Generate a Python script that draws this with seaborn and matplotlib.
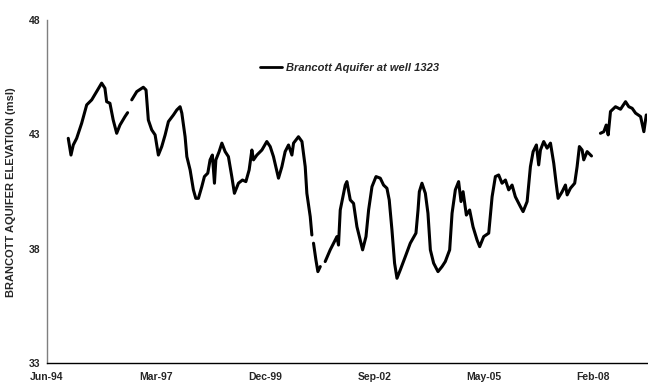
import matplotlib
matplotlib.use("Agg")
import matplotlib.pyplot as plt
import matplotlib.dates as mdates
from matplotlib.lines import Line2D
import numpy as np
import pandas as pd
import seaborn as sns

# Groundwater elevation record, split into continuous logging periods
seg1_dates = ["1994-12-27", "1995-01-21", "1995-02-11", "1995-03-14", "1995-04-29",
              "1995-06-14", "1995-07-30", "1995-09-13", "1995-10-29", "1995-11-28",
              "1995-12-14", "1996-01-13", "1996-02-12", "1996-03-15", "1996-04-14",
              "1996-05-30", "1996-06-23"]
seg1_vals = [42.83, 42.10, 42.54, 42.83, 43.49,
             44.29, 44.51, 44.87, 45.24, 45.02,
             44.43, 44.36, 43.63, 43.05, 43.41,
             43.78, 43.95]

seg2_dates = ["1996-07-31", "1996-09-15", "1996-11-14", "1996-12-09", "1996-12-30",
              "1997-01-30", "1997-03-02", "1997-04-01", "1997-05-02", "1997-06-02",
              "1997-07-02", "1997-08-17", "1997-09-17", "1997-10-17", "1997-11-02",
              "1997-12-02", "1997-12-18", "1998-01-17", "1998-02-16", "1998-03-10",
              "1998-04-03", "1998-05-04", "1998-05-28", "1998-06-28", "1998-07-19",
              "1998-08-09", "1998-08-28", "1998-09-10", "1998-10-10", "1998-11-04",
              "1998-12-04", "1999-01-03", "1999-02-03", "1999-02-27", "1999-04-05",
              "1999-05-12", "1999-06-12", "1999-07-12", "1999-08-06", "1999-08-21",
              "1999-09-21", "1999-11-06", "1999-12-21", "2000-01-21", "2000-02-20",
              "2000-04-06", "2000-05-07", "2000-06-06", "2000-07-07", "2000-08-07",
              "2000-08-22", "2000-10-06", "2000-11-07", "2000-12-07", "2000-12-22",
              "2001-01-22", "2001-02-06"]
seg2_vals = [44.51, 44.87, 45.06, 44.94, 43.63,
             43.20, 42.98, 42.10, 42.47, 42.98,
             43.56, 43.85, 44.07, 44.21, 43.93,
             42.90, 42.03, 41.45, 40.58, 40.21,
             40.21, 40.72, 41.16, 41.31, 41.89,
             42.10, 40.87, 41.89, 42.25, 42.62,
             42.25, 42.03, 41.16, 40.43, 40.87,
             41.01, 40.94, 41.45, 42.32, 41.89,
             42.10, 42.32, 42.69, 42.47, 42.03,
             41.09, 41.59, 42.25, 42.54, 42.10,
             42.62, 42.90, 42.69, 41.59, 40.43,
             39.41, 38.61]

seg3_dates = ["2001-02-21", "2001-03-15", "2001-04-02", "2001-04-24"]
seg3_vals = [38.25, 37.52, 37.01, 37.23]

seg4_dates = ["2001-06-08", "2001-07-24", "2001-09-08", "2001-09-24", "2001-10-08",
              "2001-10-24", "2001-12-09", "2001-12-24", "2002-01-24", "2002-02-23",
              "2002-03-26", "2002-04-25", "2002-05-17", "2002-06-17", "2002-07-11",
              "2002-08-11", "2002-09-17", "2002-10-26", "2002-11-25", "2002-12-26",
              "2003-01-16", "2003-02-10", "2003-03-06", "2003-03-28", "2003-04-27",
              "2003-06-12", "2003-07-28", "2003-09-18", "2003-10-07", "2003-10-19",
              "2003-11-12", "2003-12-13", "2004-01-06", "2004-01-28", "2004-02-27",
              "2004-04-07", "2004-05-14", "2004-06-13", "2004-07-23", "2004-08-14",
              "2004-09-13", "2004-10-13", "2004-11-04", "2004-11-23", "2004-12-23",
              "2005-01-22", "2005-02-22", "2005-03-31", "2005-04-24", "2005-05-31",
              "2005-07-16", "2005-08-16", "2005-09-15", "2005-10-15", "2005-11-15",
              "2005-12-16", "2006-01-15", "2006-02-15", "2006-03-17", "2006-05-02",
              "2006-05-27", "2006-07-03", "2006-08-02", "2006-08-27", "2006-09-26",
              "2006-10-17", "2006-11-02", "2006-12-02", "2007-01-02", "2007-02-02",
              "2007-03-04", "2007-03-26", "2007-04-13", "2007-05-20", "2007-06-19",
              "2007-07-05", "2007-08-04", "2007-09-12", "2007-10-04", "2007-10-25",
              "2007-11-19", "2007-12-04", "2008-01-04", "2008-02-13"]
seg4_vals = [37.45, 37.96, 38.39, 38.54, 38.17,
             39.70, 40.79, 40.94, 40.14, 39.99,
             38.97, 38.39, 37.96, 38.54, 39.70,
             40.72, 41.16, 41.09, 40.79, 40.65,
             40.14, 38.83, 37.38, 36.72, 37.08,
             37.66, 38.25, 38.69, 39.70, 40.50,
             40.87, 40.43, 39.56, 37.96, 37.38,
             37.01, 37.23, 37.45, 37.96, 39.56,
             40.58, 40.94, 40.07, 40.50, 39.48,
             39.70, 38.97, 38.39, 38.10, 38.54,
             38.69, 40.28, 41.16, 41.23, 40.87,
             41.01, 40.58, 40.79, 40.28, 39.85,
             39.63, 40.07, 41.59, 42.25, 42.54,
             41.67, 42.32, 42.69, 42.40, 42.62,
             41.74, 40.87, 40.21, 40.50, 40.79,
             40.36, 40.65, 40.87, 41.59, 42.47,
             42.32, 41.89, 42.25, 42.06]

seg5_dates = ["2008-05-05", "2008-06-05", "2008-06-27", "2008-07-15", "2008-08-05",
              "2008-09-20", "2008-11-05", "2008-12-21", "2009-01-20", "2009-02-20",
              "2009-03-23", "2009-05-08", "2009-06-07", "2009-06-29"]
seg5_vals = [43.05, 43.12, 43.41, 42.98, 44.00,
             44.21, 44.10, 44.43, 44.21, 44.14,
             43.93, 43.78, 43.12, 43.85]

tick_dates = ["1994-06-15", "1997-03-12", "1999-12-07", "2002-09-02", "2005-05-30", "2008-02-24"]
x_end = "2009-07-06"
y_ticks = [33, 38, 43, 48]
series_name = "Brancott Aquifer at well 1323"
y_title = "BRANCOTT AQUIFER ELEVATION (msl)"

frames = []
for i, (d, v) in enumerate([(seg1_dates, seg1_vals), (seg2_dates, seg2_vals),
                            (seg3_dates, seg3_vals), (seg4_dates, seg4_vals),
                            (seg5_dates, seg5_vals)]):
    frames.append(pd.DataFrame({"date": pd.to_datetime(d), "elev": v, "segment": i}))
df = pd.concat(frames, ignore_index=True)

sns.set_theme(style="white")
plt.rcParams["font.family"] = ["Liberation Sans", "DejaVu Sans"]

fig = plt.figure(figsize=(6.48, 3.83), dpi=100)
ax = fig.add_axes([0.0725, 0.051, 0.926, 0.897])

sns.lineplot(data=df, x="date", y="elev", units="segment", estimator=None,
             color="black", linewidth=2.2, ax=ax, legend=False)

ax.set_xlim(pd.Timestamp(tick_dates[0]), pd.Timestamp(x_end))
ax.set_ylim(y_ticks[0], y_ticks[-1])
ax.set_yticks(y_ticks)
ax.set_xticks(pd.to_datetime(tick_dates))
ax.xaxis.set_major_formatter(mdates.DateFormatter("%b-%y"))

for side in ["top", "right"]:
    ax.spines[side].set_visible(False)
ax.spines["left"].set_color("#7f7f7f")
ax.spines["bottom"].set_color("black")
ax.spines["left"].set_linewidth(1.0)
ax.spines["bottom"].set_linewidth(1.0)

ax.tick_params(axis="y", direction="out", length=3, width=0.8, color="#7f7f7f",
               labelsize=7.5, pad=2)
ax.tick_params(axis="x", direction="in", length=3, width=0.8, color="black",
               labelsize=7.5, pad=6)
for lab in ax.get_xticklabels() + ax.get_yticklabels():
    lab.set_fontweight("bold")

ax.set_xlabel("")
ax.set_ylabel(y_title, fontsize=8, fontweight="bold", labelpad=9)

handle = Line2D([], [], color="black", linewidth=2.0)
ax.legend(handles=[handle], labels=[series_name], loc="center left",
          bbox_to_anchor=(0.355, 0.86), frameon=False, handlelength=2.0,
          handletextpad=0.3, borderaxespad=0, borderpad=0,
          prop={"size": 8, "weight": "bold", "style": "italic"})

fig.savefig("out.png", dpi=100)
